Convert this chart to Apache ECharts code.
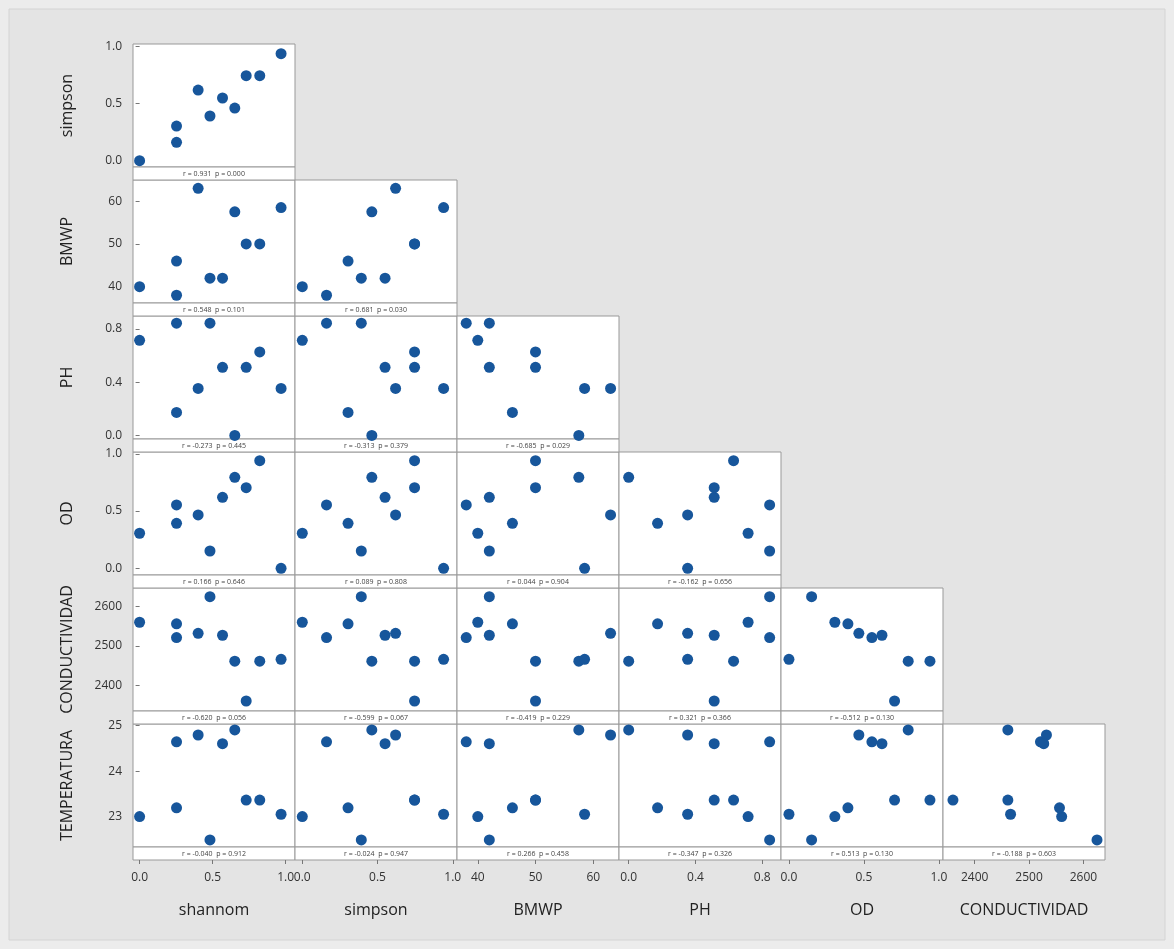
<!DOCTYPE html>
<html>
<head>
<meta charset="utf-8">
<title>Matriz de dispersión</title>
<script src="https://cdn.jsdelivr.net/npm/echarts@6/dist/echarts.min.js"></script>
<style>
  html, body { margin: 0; padding: 0; background: #ececec; }
  #chart { width: 1174px; height: 949px; }
</style>
</head>
<body>
<div id="chart"></div>
<script>
// --- data: one value per sample (10 samples) ---
var shannom = [0, 0.253, 0.253, 0.401, 0.482, 0.568, 0.652, 0.730, 0.823, 0.969];
var simpson = [0, 0.161, 0.304, 0.620, 0.392, 0.550, 0.462, 0.746, 0.746, 0.939];
var bmwp = [40, 38, 46, 63, 42, 42, 57.5, 50, 50, 58.5];
var ph = [0.715, 0.844, 0.173, 0.353, 0.844, 0.512, 0, 0.512, 0.628, 0.353];
var od = [0.306, 0.553, 0.393, 0.466, 0.151, 0.620, 0.795, 0.704, 0.940, 0];
var conductividad = [2560, 2521, 2556, 2532, 2625, 2527, 2461, 2360, 2461, 2466];
var temperatura = [23.01, 24.64, 23.20, 24.79, 22.50, 24.60, 24.90, 23.37, 23.37, 23.06];

// tick labels
var ticksUnit = [0, 0.5, 1];
var ticksBmwp = [40, 50, 60];
var ticksPh = [0, 0.4, 0.8];
var ticksCond = [2400, 2500, 2600];
var ticksTemp = [23, 24, 25];

var colNames = ['shannom', 'simpson', 'BMWP', 'PH', 'OD', 'CONDUCTIVIDAD'];
var rowNames = ['simpson', 'BMWP', 'PH', 'OD', 'CONDUCTIVIDAD', 'TEMPERATURA'];
var colVars = [shannom, simpson, bmwp, ph, od, conductividad];
var rowVars = [simpson, bmwp, ph, od, conductividad, temperatura];
var colTicks = [ticksUnit, ticksUnit, ticksBmwp, ticksPh, ticksUnit, ticksCond];
var rowTicks = [ticksUnit, ticksBmwp, ticksPh, ticksUnit, ticksCond, ticksTemp];
var colDec = [1, 1, 0, 1, 1, 0];
var rowDec = [1, 0, 1, 1, 0, 0];

// axis extents (padded like the original tool does)
var colRange = [[-0.0452, 1.0644], [-0.0485, 1.028], [36.4, 64.46], [-0.058, 0.912], [-0.053, 1.027], [2341.7, 2639.7]];
var rowRange = [[-0.0553, 1.0237], [36.19, 64.94], [-0.027, 0.898], [-0.0585, 1.0157], [2334.6, 2647], [22.345, 25.03]];

function pearson(a, b) {
  var n = a.length, ma = 0, mb = 0, sab = 0, saa = 0, sbb = 0;
  for (var i = 0; i < n; i++) { ma += a[i]; mb += b[i]; }
  ma /= n; mb /= n;
  for (var j = 0; j < n; j++) {
    sab += (a[j] - ma) * (b[j] - mb);
    saa += (a[j] - ma) * (a[j] - ma);
    sbb += (b[j] - mb) * (b[j] - mb);
  }
  return sab / Math.sqrt(saa * sbb);
}

// two-sided p for r, n-2 (even) degrees of freedom
function pValue(r, n) {
  var df = n - 2;
  var t = Math.abs(r) * Math.sqrt(df / (1 - r * r));
  var th = Math.atan(t / Math.sqrt(df));
  var c2 = Math.cos(th) * Math.cos(th), term = 1, sum = 1;
  for (var k = 1; k <= df / 2 - 1; k++) { term *= c2 * (2 * k - 1) / (2 * k); sum += term; }
  return Math.max(0, 1 - Math.sin(th) * sum);
}

(function() {
  var dotColor = '#17569b';
  var frameColor = '#999';
  var textColor = '#333';
  var fontFam = '"Open Sans", "Noto Sans", sans-serif';

  var grids = [], xAxes = [], yAxes = [], series = [], graphics = [];
  graphics.push({ type: 'rect', z: -1, shape: { x: 9, y: 9, width: 1156, height: 931 },
    style: { fill: '#e4e4e4', stroke: '#d4d4d4', lineWidth: 1 } });

  var gi = 0;
  for (var r = 0; r < 6; r++) {
    for (var c = 0; c <= r; c++) {
      var px = 133 + 162 * c, py = 44 + 136 * r;
      grids.push({ left: px, top: py, width: 162, height: 123, show: true,
        backgroundColor: '#fff', borderColor: frameColor, borderWidth: 1 });

      xAxes.push({
        gridIndex: gi, type: 'value', min: colRange[c][0], max: colRange[c][1],
        show: r === 5, position: 'bottom', offset: 13,
        axisLine: { show: false },
        axisTick: { show: true, length: 4, customValues: colTicks[c], lineStyle: { color: '#777' } },
        axisLabel: { customValues: colTicks[c], margin: 12, color: textColor, fontSize: 12, fontFamily: fontFam,
          formatter: (function(d) { return function(v) { return v.toFixed(d); }; })(colDec[c]) },
        splitLine: { show: false },
        name: colNames[c], nameLocation: 'middle', nameGap: 42,
        nameTextStyle: { color: '#222', fontSize: 16, fontFamily: fontFam }
      });
      yAxes.push({
        gridIndex: gi, type: 'value', min: rowRange[r][0], max: rowRange[r][1],
        show: c === 0,
        axisLine: { show: false },
        axisTick: { show: true, length: 4, customValues: rowTicks[r], lineStyle: { color: '#777' } },
        axisLabel: { customValues: rowTicks[r], margin: 11, color: textColor, fontSize: 12, fontFamily: fontFam,
          formatter: (function(d) { return function(v) { return v.toFixed(d); }; })(rowDec[r]) },
        splitLine: { show: false },
        name: rowNames[r], nameLocation: 'middle', nameRotate: 90, nameGap: 58,
        nameTextStyle: { color: '#222', fontSize: 16, fontFamily: fontFam }
      });

      var pts = [];
      for (var i = 0; i < colVars[c].length; i++) pts.push([colVars[c][i], rowVars[r][i]]);
      series.push({ type: 'scatter', xAxisIndex: gi, yAxisIndex: gi, data: pts,
        symbolSize: 11, clip: false, silent: true, itemStyle: { color: dotColor, opacity: 1 } });

      var rv = pearson(colVars[c], rowVars[r]);
      var pv = pValue(rv, colVars[c].length);
      graphics.push({ type: 'rect', shape: { x: px, y: py + 123, width: 162, height: 13 },
        style: { fill: '#fff', stroke: frameColor, lineWidth: 1 } });
      graphics.push({ type: 'text', x: px + 81, y: py + 130,
        style: { text: 'r = ' + rv.toFixed(3) + '  p = ' + pv.toFixed(3), fill: '#444',
          font: '7px "Open Sans", sans-serif', textAlign: 'center', textVerticalAlign: 'middle' } });
      gi++;
    }
  }

  var chart = echarts.init(document.getElementById('chart'), null, { renderer: 'canvas' });
  chart.setOption({
    animation: false,
    backgroundColor: '#ececec',
    grid: grids,
    xAxis: xAxes,
    yAxis: yAxes,
    series: series,
    graphic: { elements: graphics }
  });
  window.addEventListener('resize', function() { chart.resize(); });
})();
</script>
</body>
</html>
